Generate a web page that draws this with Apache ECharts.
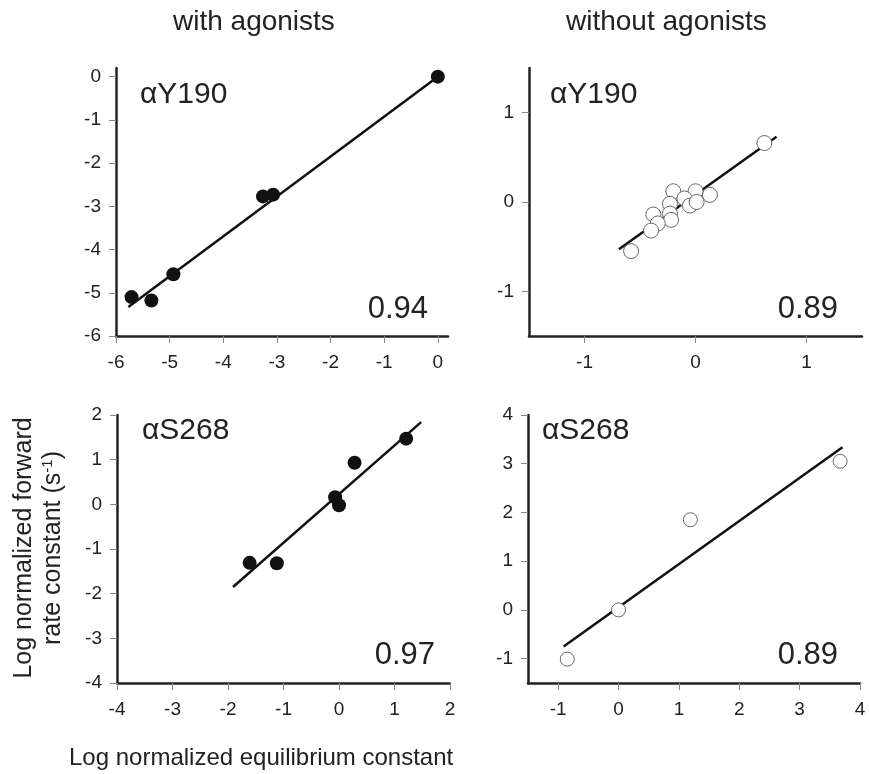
<!DOCTYPE html>
<html>
<head>
<meta charset="utf-8">
<script src="https://cdn.jsdelivr.net/npm/echarts@6/dist/echarts.min.js"></script>
<style>
  html, body { margin: 0; padding: 0; background: #fff; }
  #main { width: 869px; height: 774px; }
</style>
</head>
<body>
<div id="main"></div>
<script>
// panel data: [log equilibrium, log forward rate]
var withY190 = [[0, 0], [-3.07, -2.73], [-3.26, -2.77], [-4.93, -4.57], [-5.34, -5.18], [-5.71, -5.1]];
var withY190Fit = [[-5.77, -5.33], [0, 0]];
var withoutY190 = [[0.62, 0.66], [-0.58, -0.55], [0.13, 0.08], [0.0, 0.12], [-0.2, 0.12], [-0.1, 0.04],
  [-0.23, -0.02], [-0.05, -0.04], [0.01, 0.0], [-0.38, -0.14], [-0.23, -0.13], [-0.22, -0.2],
  [-0.34, -0.24], [-0.4, -0.32]];
var withoutY190Fit = [[-0.69, -0.53], [0.73, 0.73]];
var withS268 = [[-1.61, -1.31], [-1.12, -1.32], [-0.07, 0.16], [0.0, -0.02], [0.28, 0.93], [1.21, 1.47]];
var withS268Fit = [[-1.91, -1.85], [1.48, 1.84]];
var withoutS268 = [[-0.85, -1.01], [0, 0], [1.19, 1.85], [3.67, 3.05]];
var withoutS268Fit = [[-0.91, -0.75], [3.71, 3.34]];

// tick labels
var ticksTL_x = [-6, -5, -4, -3, -2, -1, 0];
var ticksTL_y = [-6, -5, -4, -3, -2, -1, 0];
var ticksTR = [-1, 0, 1];
var ticksBL = [-4, -3, -2, -1, 0, 1, 2];
var ticksBR = [-1, 0, 1, 2, 3, 4];

var panelNames = ['\u03b1Y190', '\u03b1Y190', '\u03b1S268', '\u03b1S268'];
var rValues = ['0.94', '0.89', '0.97', '0.89'];

var font = '"Liberation Sans", Arial, Helvetica, sans-serif';
var chart = echarts.init(document.getElementById('main'));

function axis(idx, min, max, ticks, isX) {
  return {
    type: 'value', gridIndex: idx, min: min, max: max,
    axisLine: { show: true, onZero: false, lineStyle: { color: '#222', width: 2.5 } },
    axisTick: { show: true, length: 7, customValues: ticks, lineStyle: { color: '#888', width: 1 } },
    axisLabel: { customValues: ticks, fontFamily: font, fontSize: 19, color: '#222', margin: isX ? 17 : 15 },
    splitLine: { show: false }
  };
}

var grids = [
  { left: 116, top: 68, width: 332, height: 268 },
  { left: 529, top: 68, width: 333, height: 268 },
  { left: 117, top: 415, width: 333, height: 268 },
  { left: 528, top: 415, width: 332, height: 268 }
];

var xAxes = [
  axis(0, -6, 0.19, ticksTL_x, true),
  axis(1, -1.5, 1.5, ticksTR, true),
  axis(2, -4, 2, ticksBL, true),
  axis(3, -1.5, 4, ticksBR, true)
];
var yAxes = [
  axis(0, -6, 0.2, ticksTL_y, false),
  axis(1, -1.5, 1.5, ticksTR, false),
  axis(2, -4, 2, ticksBL, false),
  axis(3, -1.5, 4, ticksBR, false)
];

function fit(idx, data) {
  return { type: 'line', xAxisIndex: idx, yAxisIndex: idx, data: data, symbol: 'none', z: 2,
    lineStyle: { color: '#111', width: 2.5 }, silent: true };
}
function dots(idx, data, open, size) {
  return { type: 'scatter', xAxisIndex: idx, yAxisIndex: idx, data: data, symbolSize: size, z: 3,
    itemStyle: open ? { color: '#fff', borderColor: '#666', borderWidth: 1, opacity: 1 } : { color: '#111', opacity: 1 } };
}

var labelPos = [[140, 95], [550, 95], [142, 431], [542, 431]];
var rPos = [[428, 309], [838, 309], [435, 655], [838, 655]];
var graphics = [];
for (var i = 0; i < 4; i++) {
  graphics.push({ type: 'text', x: labelPos[i][0], y: labelPos[i][1],
    style: { text: panelNames[i], font: '30px ' + font, fill: '#222', textVerticalAlign: 'middle' } });
  graphics.push({ type: 'text', x: rPos[i][0], y: rPos[i][1],
    style: { text: rValues[i], font: '31px ' + font, fill: '#222', textAlign: 'right', textVerticalAlign: 'middle' } });
}
graphics.push({ type: 'text', x: 173, y: 22,
  style: { text: 'with agonists', font: '28px ' + font, fill: '#222', textVerticalAlign: 'middle' } });
graphics.push({ type: 'text', x: 566, y: 22,
  style: { text: 'without agonists', font: '28px ' + font, fill: '#222', textVerticalAlign: 'middle' } });
graphics.push({ type: 'text', x: 69, y: 758,
  style: { text: 'Log normalized equilibrium constant', font: '24px ' + font, fill: '#222', textVerticalAlign: 'middle' } });
// y title, two rotated lines
graphics.push({ type: 'text', x: 24, y: 548, rotation: Math.PI / 2,
  style: { text: 'Log normalized forward', font: '25px ' + font, fill: '#222', textAlign: 'center', textVerticalAlign: 'middle' } });
graphics.push({ type: 'text', x: 53, y: 548, rotation: Math.PI / 2,
  style: { text: '{a|rate constant (s}{s|-1}{a|)}', fill: '#222', textAlign: 'center', textVerticalAlign: 'middle',
    rich: { a: { font: '25px ' + font, fill: '#222' }, s: { font: '15px ' + font, fill: '#222', verticalAlign: 'top', padding: [0, 0, 10, 0] } } } });

chart.setOption({
  animation: false,
  grid: grids,
  xAxis: xAxes,
  yAxis: yAxes,
  series: [
    fit(0, withY190Fit), dots(0, withY190, false, 14),
    fit(1, withoutY190Fit), dots(1, withoutY190, true, 15),
    fit(2, withS268Fit), dots(2, withS268, false, 14),
    fit(3, withoutS268Fit), dots(3, withoutS268, true, 14)
  ],
  graphic: graphics
});
</script>
</body>
</html>
